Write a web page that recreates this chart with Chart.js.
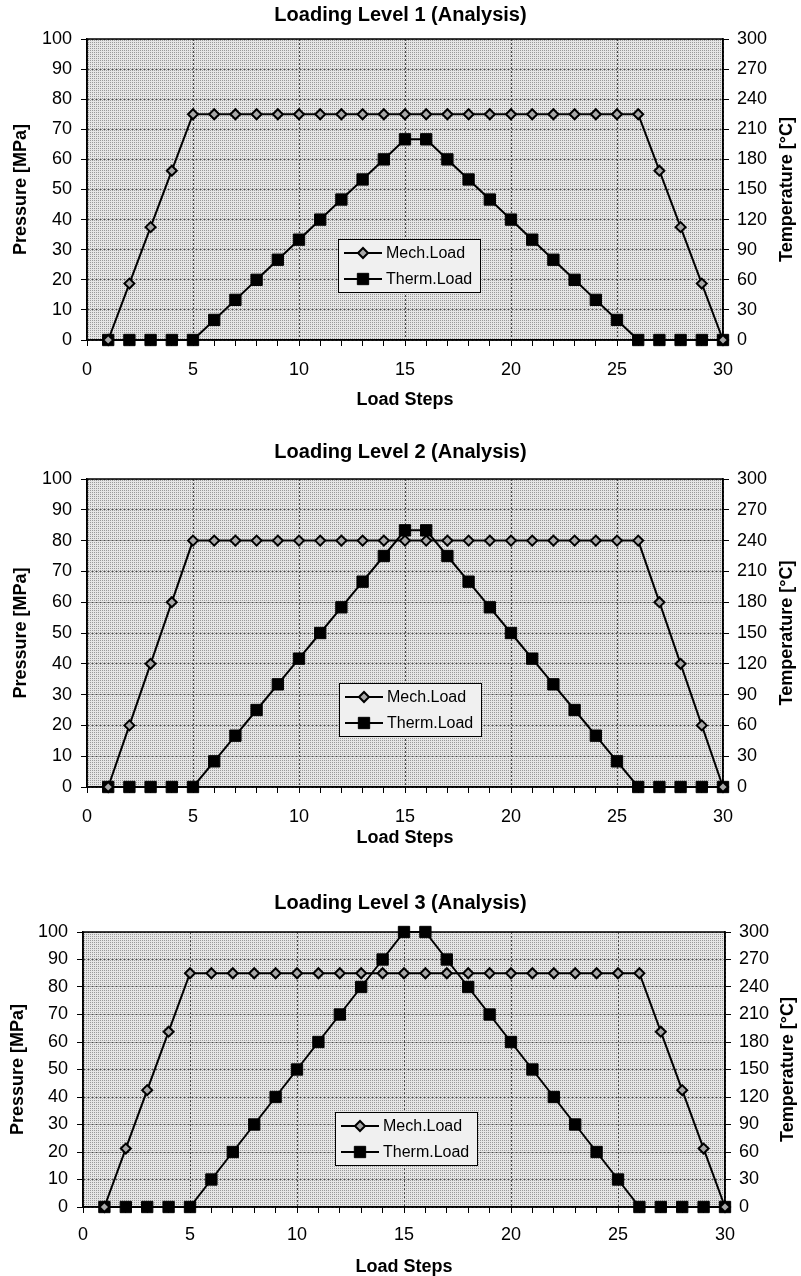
<!DOCTYPE html>
<html>
<head>
<meta charset="utf-8">
<script src="https://cdn.jsdelivr.net/npm/chart.js@4.4.0/dist/chart.umd.min.js"></script>
<style>
  body { margin: 0; background: #fff; }
  #page { position: relative; width: 801px; height: 1276px; overflow: hidden; background: #fff; }
  canvas { position: absolute; left: 0; }
</style>
</head>
<body>
<div id="page">
  <canvas id="chart1" width="801" height="420" style="top:0px"></canvas>
  <canvas id="chart2" width="801" height="420" style="top:438px"></canvas>
  <canvas id="chart3" width="801" height="392" style="top:888px"></canvas>
</div>
<script>
// Load steps (x axis)
const steps = [1, 2, 3, 4, 5, 6, 7, 8, 9, 10, 11, 12, 13, 14, 15,
               16, 17, 18, 19, 20, 21, 22, 23, 24, 25, 26, 27, 28, 29, 30];

const titles = ['Loading Level 1 (Analysis)', 'Loading Level 2 (Analysis)', 'Loading Level 3 (Analysis)'];
const seriesNames = ['Mech.Load', 'Therm.Load'];

// Mechanical load, pressure in MPa (left axis)
const mech1 = [0, 18.75, 37.5, 56.25, 75, 75, 75, 75, 75, 75, 75, 75, 75, 75, 75,
               75, 75, 75, 75, 75, 75, 75, 75, 75, 75, 75, 56.25, 37.5, 18.75, 0];
const mech2 = [0, 20, 40, 60, 80, 80, 80, 80, 80, 80, 80, 80, 80, 80, 80,
               80, 80, 80, 80, 80, 80, 80, 80, 80, 80, 80, 60, 40, 20, 0];
const mech3 = [0, 21.25, 42.5, 63.75, 85, 85, 85, 85, 85, 85, 85, 85, 85, 85, 85,
               85, 85, 85, 85, 85, 85, 85, 85, 85, 85, 85, 63.75, 42.5, 21.25, 0];

// Thermal load, temperature in °C (right axis)
const therm1 = [0, 0, 0, 0, 0, 20, 40, 60, 80, 100, 120, 140, 160, 180, 200,
                200, 180, 160, 140, 120, 100, 80, 60, 40, 20, 0, 0, 0, 0, 0];
const therm2 = [0, 0, 0, 0, 0, 25, 50, 75, 100, 125, 150, 175, 200, 225, 250,
                250, 225, 200, 175, 150, 125, 100, 75, 50, 25, 0, 0, 0, 0, 0];
const therm3 = [0, 0, 0, 0, 0, 30, 60, 90, 120, 150, 180, 210, 240, 270, 300,
                300, 270, 240, 210, 180, 150, 120, 90, 60, 30, 0, 0, 0, 0, 0];

Chart.defaults.font.family = '"Liberation Sans", Arial, sans-serif';
Chart.defaults.color = '#000';

// grey halftone fill for the plot area
function makeStipple() {
    const c = document.createElement('canvas');
    c.width = 2; c.height = 2;
    const g = c.getContext('2d');
    g.fillStyle = '#e6e6e6';
    g.fillRect(0, 0, 2, 2);
    g.fillStyle = '#9a9a9a';
    g.fillRect(0, 0, 1, 1);
    return c;
}
const stipple = makeStipple();

const decor = {
    id: 'decor',
    beforeDraw(chart) {
        const {ctx, chartArea: a} = chart;
        ctx.save();
        ctx.fillStyle = ctx.createPattern(stipple, 'repeat');
        ctx.fillRect(a.left, a.top, a.right - a.left, a.bottom - a.top);
        ctx.restore();
    },
    beforeDatasetsDraw(chart) {
        const {ctx, chartArea: a} = chart;
        ctx.save();
        ctx.strokeStyle = '#000';
        ctx.lineWidth = 1.5;
        ctx.strokeRect(a.left, a.top, a.right - a.left, a.bottom - a.top);
        ctx.restore();
    },
    afterDraw(chart, args, opts) {
        const {ctx, chartArea: a} = chart;
        ctx.save();
        // legend box inside the plot
        const lx = opts.legendX, ly = opts.legendY;
        ctx.fillStyle = '#f0f0f0';
        ctx.fillRect(lx, ly, 142, 53);
        ctx.strokeStyle = '#000';
        ctx.lineWidth = 1;
        ctx.strokeRect(lx + 0.5, ly + 0.5, 142, 53);
        chart.data.datasets.forEach((ds, i) => {
            const y = ly + 14 + i * 26;
            ctx.strokeStyle = '#000';
            ctx.lineWidth = 2;
            ctx.beginPath();
            ctx.moveTo(lx + 6, y);
            ctx.lineTo(lx + 44, y);
            ctx.stroke();
            ctx.fillStyle = ds.pointBackgroundColor;
            ctx.strokeStyle = ds.pointBorderColor;
            ctx.lineWidth = ds.pointBorderWidth;
            Chart.helpers.drawPoint(ctx, {
                pointStyle: ds.pointStyle,
                radius: ds.pointRadius,
                rotation: 0,
                borderWidth: ds.pointBorderWidth
            }, lx + 25, y);
            ctx.fillStyle = '#000';
            ctx.font = '16px "Liberation Sans", Arial, sans-serif';
            ctx.textAlign = 'left';
            ctx.textBaseline = 'middle';
            ctx.fillText(ds.label, lx + 48, y + 1);
        });
        // right axis title, reading bottom to top
        ctx.translate(opts.rightTitleX, (a.top + a.bottom) / 2);
        ctx.rotate(-Math.PI / 2);
        ctx.fillStyle = '#000';
        ctx.font = 'bold 18px "Liberation Sans", Arial, sans-serif';
        ctx.textAlign = 'center';
        ctx.textBaseline = 'middle';
        ctx.fillText('Temperature [°C]', 0, 0);
        ctx.restore();
    }
};

function buildChart(id, title, mech, therm, box) {
    const H = document.getElementById(id).height;
    const mechPoints = steps.map((s, i) => ({ x: s, y: mech[i] }));
    const thermPoints = steps.map((s, i) => ({ x: s, y: therm[i] }));
    const dotted = '#4a4a4a';

    return new Chart(document.getElementById(id), {
        type: 'line',
        data: {
            datasets: [{
                label: seriesNames[0],
                data: mechPoints,
                yAxisID: 'y',
                borderColor: '#000',
                borderWidth: 2,
                pointStyle: 'rectRot',
                pointRadius: 5,
                pointBackgroundColor: '#a8a8a8',
                pointBorderColor: '#000',
                pointBorderWidth: 2,
                tension: 0,
                clip: false
            }, {
                label: seriesNames[1],
                data: thermPoints,
                yAxisID: 'y2',
                borderColor: '#000',
                borderWidth: 2,
                pointStyle: 'rect',
                pointRadius: 8,
                pointBackgroundColor: '#000',
                pointBorderColor: '#000',
                pointBorderWidth: 1,
                tension: 0,
                clip: false
            }]
        },
        options: {
            responsive: false,
            animation: false,
            events: [],
            layout: { padding: 0 },
            plugins: {
                legend: { display: false },
                tooltip: { enabled: false },
                title: {
                    display: true,
                    text: title,
                    font: { size: 20, weight: 'bold' },
                    padding: { top: box.titleY - 12, bottom: box.top - box.titleY - 12 }
                },
                decor: box
            },
            scales: {
                x: {
                    type: 'linear',
                    min: 0,
                    max: 30,
                    afterFit: s => { s.height = H - box.bottom; },
                    ticks: {
                        stepSize: 1,
                        autoSkip: false,
                        maxRotation: 0,
                        padding: box.labelGap - 17,
                        font: { size: 18 },
                        callback: v => (v % 5 === 0 ? v : '')
                    },
                    grid: {
                        color: c => (c.tick && c.tick.value % 5 === 0 ? dotted : 'rgba(0,0,0,0)'),
                        tickColor: '#000',
                        tickLength: 6
                    },
                    border: { color: '#000', width: 1.5, dash: [2, 2] },
                    title: {
                        display: true,
                        text: 'Load Steps',
                        font: { size: 18, weight: 'bold' },
                        padding: { top: 0, bottom: Math.max(0, H - box.xTitleY - 10.8) }
                    }
                },
                y: {
                    position: 'left',
                    min: 0,
                    max: 100,
                    afterFit: s => { s.width = box.left; },
                    ticks: {
                        stepSize: 5,
                        padding: 9,
                        font: { size: 18 },
                        callback: v => (v % 10 === 0 ? v : '')
                    },
                    grid: {
                        color: c => (c.tick && c.tick.value % 10 === 0 ? dotted : 'rgba(0,0,0,0)'),
                        tickColor: '#000',
                        tickLength: 6
                    },
                    border: { color: '#000', width: 1.5, dash: [2, 2] },
                    title: {
                        display: true,
                        text: 'Pressure [MPa]',
                        font: { size: 18, weight: 'bold' },
                        padding: { top: box.yTitlePad, bottom: 0 }
                    }
                },
                y2: {
                    position: 'right',
                    min: 0,
                    max: 300,
                    afterFit: s => { s.width = 801 - box.right; },
                    ticks: {
                        stepSize: 15,
                        padding: 8,
                        font: { size: 18 },
                        callback: v => (v % 30 === 0 ? v : '')
                    },
                    grid: {
                        drawOnChartArea: false,
                        tickColor: '#000',
                        tickLength: 6
                    },
                    border: { color: '#000', width: 1.5 }
                }
            }
        },
        plugins: [decor]
    });
}

// positions are in canvas pixels
buildChart('chart1', titles[0], mech1, therm1, {
    titleY: 15, top: 39, bottom: 340, left: 87, right: 723, labelGap: 30, xTitleY: 400,
    yTitlePad: 10, legendX: 338, legendY: 239, rightTitleX: 787
});
buildChart('chart2', titles[1], mech2, therm2, {
    titleY: 14, top: 41, bottom: 349, left: 87, right: 723, labelGap: 30, xTitleY: 400,
    yTitlePad: 10, legendX: 339, legendY: 245, rightTitleX: 787
});
buildChart('chart3', titles[2], mech3, therm3, {
    titleY: 15, top: 44, bottom: 319, left: 83, right: 725, labelGap: 28, xTitleY: 379,
    yTitlePad: 7, legendX: 335, legendY: 224, rightTitleX: 788
});
</script>
</body>
</html>
